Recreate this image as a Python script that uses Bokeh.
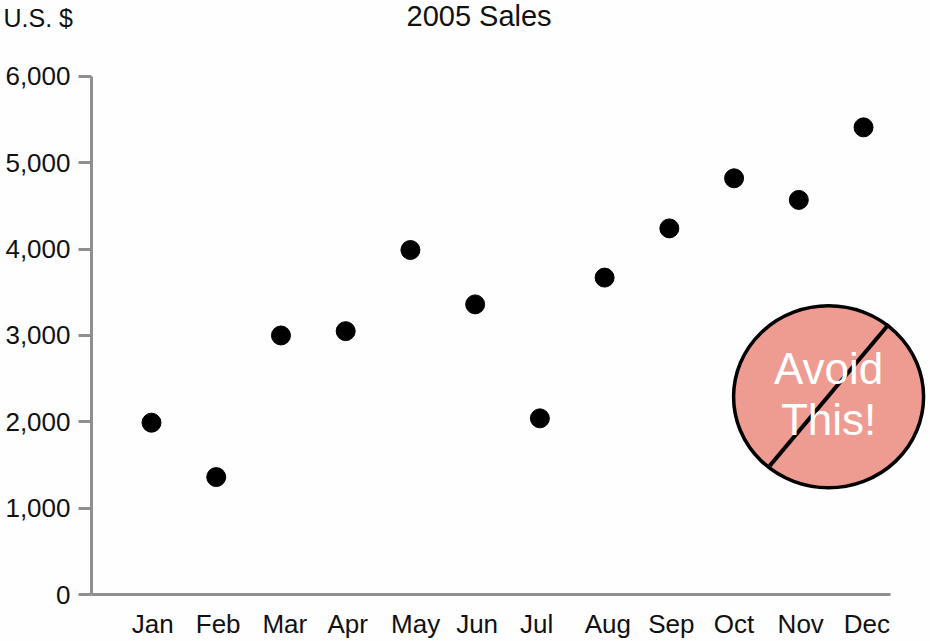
from bokeh.plotting import figure
from bokeh.embed import file_html
from bokeh.resources import INLINE
from bokeh.models import Range1d, FixedTicker, Title, ColumnDataSource
from bokeh.core.properties import value

months = ["Jan","Feb","Mar","Apr","May","Jun","Jul","Aug","Sep","Oct","Nov","Dec"]
sales = [1990,1360,3000,3050,3990,3360,2040,3670,4240,4820,4570,5410]
y_ticks = [0,1000,2000,3000,4000,5000,6000]
index = list(range(1,13))
label_pos = [1.02,2.03,3.06,4.03,5.08,6.03,6.95,8.05,9.03,10.0,11.03,12.05]

FONT = "Liberation Sans"
GREY = "#8f8f8f"
PX_X = 64.73
PX_Y = 86.5 / 1000
FRAME_L, FRAME_R, FRAME_T, FRAME_B = 91, 930, 32, 595
x0 = 151

p = figure(width=930, height=641, output_backend="svg", toolbar_location=None,
           x_range=Range1d(1 + (FRAME_L - x0) / PX_X, 1 + (FRAME_R - x0) / PX_X),
           y_range=Range1d(0, (FRAME_B - FRAME_T) / PX_Y),
           min_border_left=FRAME_L, min_border_right=0, min_border_top=FRAME_T, min_border_bottom=641 - FRAME_B,
           background_fill_color="#fefefe", border_fill_color="#fefefe",
           margin=(0, 0, 0, 0), tools="")
p.outline_line_color = None
p.grid.visible = False

p.title = Title(text="2005 Sales", text_font=FONT, text_font_size="29px", text_font_style="normal",
                text_color="#111111", align="left", offset=315, standoff=-62)
p.add_layout(Title(text="U.S. $", text_font=FONT, text_font_size="25px", text_font_style="normal",
                   text_color="#111111", align="left", offset=-88, standoff=2), "above")

ax = p.yaxis[0]
ax.ticker = FixedTicker(ticks=y_ticks)
ax.bounds = (0, 6000)
ax.major_label_overrides = {v: f"{v:,}" for v in y_ticks}
ax.major_label_text_font = FONT
ax.major_label_text_font_size = "26px"
ax.major_label_text_color = "#111111"
ax.major_label_standoff = 8
ax.axis_line_color = GREY
ax.axis_line_width = 3
ax.major_tick_line_color = GREY
ax.major_tick_line_width = 3
ax.major_tick_out = 13
ax.major_tick_in = 0
ax.minor_tick_line_color = None

bx = p.xaxis[0]
bx.ticker = FixedTicker(ticks=label_pos)
bx.major_label_overrides = dict(zip(label_pos, months))
bx.bounds = (p.x_range.start, 1 + (890 - x0) / PX_X)
bx.major_label_text_font = FONT
bx.major_label_text_font_size = "26px"
bx.major_label_text_color = "#111111"
bx.major_label_standoff = 8
bx.axis_line_color = GREY
bx.axis_line_width = 3
bx.major_tick_line_color = None
bx.minor_tick_line_color = None

src = ColumnDataSource(dict(x=index, y=sales))
p.scatter("x", "y", source=src, size=19, color="#000000")

# "Avoid this" badge, placed in data coordinates
cx = 11.46
cy = 2290
p.ellipse(x=[cx], y=[cy], width=[190], height=[182], width_units="screen", height_units="screen",
          fill_color="#EE9C92", line_color="#000000", line_width=3.5)
p.line(x=[10.55, 12.39], y=[1490, 3130], line_color="#000000", line_width=4)
p.text(x=[cx, cx], y=[2620, 2030], text=["Avoid", "This!"], text_color="#ffffff",
       text_font=value(FONT), text_font_size="44px", text_align="center", text_baseline="middle")

open("out.html", "w").write(file_html(p, INLINE))
